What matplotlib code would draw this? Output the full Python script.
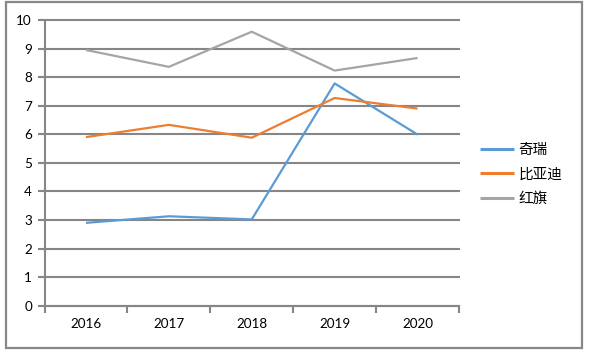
import matplotlib
matplotlib.use("Agg")
import matplotlib.pyplot as plt
from matplotlib.patches import Rectangle
import numpy as np

years = ["2016", "2017", "2018", "2019", "2020"]
series_names = ["奇瑞", "比亚迪", "红旗"]
chery = [2.90, 3.13, 3.02, 7.78, 5.99]
byd = [5.90, 6.33, 5.88, 7.27, 6.90]
hongqi = [8.95, 8.36, 9.59, 8.23, 8.67]
colors = ["#5B9BD5", "#ED7D31", "#A5A5A5"]
y_ticks = list(range(0, 11))

W, H = 595, 355
fig = plt.figure(figsize=(W / 100, H / 100), dpi=100)
fig.patch.set_facecolor("white")

# axes placed by pixel bounds
x0, x1, ytop, ybot = 44.5, 459, 20, 305.7
ax = fig.add_axes([x0 / W, 1 - ybot / H, (x1 - x0) / W, (ybot - ytop) / H])

grid_col = "#868686"
pos = np.arange(len(years)) + 0.5
for vals, name, c in zip([chery, byd, hongqi], series_names, colors):
    ax.plot(pos, vals, color=c, lw=1.6, label=name, solid_capstyle="butt", zorder=3)

ax.set_xlim(0, len(years))
ax.set_ylim(0, 10)
ax.set_yticks(y_ticks)
ax.set_yticklabels([str(v) for v in y_ticks])
ax.set_xticks(np.arange(len(years) + 1))
ax.set_xticklabels([])
ax.set_xticks(pos, minor=True)
ax.set_xticklabels(years, minor=True)

for lab in ax.get_yticklabels() + ax.get_xticklabels(minor=True):
    lab.set_fontfamily(["Lato", "DejaVu Sans"])
    lab.set_fontsize(9.7)

ax.tick_params(axis="y", which="major", length=5, width=1.5, color=grid_col, pad=4)
ax.tick_params(axis="x", which="major", length=5, width=1.5, color=grid_col, direction="out")
ax.tick_params(axis="x", which="minor", length=0, pad=9)

for s in ["top", "right"]:
    ax.spines[s].set_visible(False)
for s in ["left", "bottom"]:
    ax.spines[s].set_color(grid_col)
    ax.spines[s].set_linewidth(1.5)

ax.yaxis.grid(True, color=grid_col, lw=1.5)
ax.set_axisbelow(True)
for gl in ax.get_ygridlines():
    gl.set_clip_on(False)

leg = fig.legend(
    loc="center left",
    bbox_to_anchor=(480 / W, 1 - 174.5 / H),
    frameon=False,
    borderpad=0,
    borderaxespad=0,
    handlelength=2.3,
    handletextpad=0.35,
    labelspacing=0.72,
    prop=dict(family=["Noto Sans CJK SC", "DejaVu Sans"], size=10.5),
)
for line in leg.get_lines():
    line.set_linewidth(2.2)

# outer frame
fig.patches.append(Rectangle((6 / W, 1 - 348 / H), (582 - 6) / W, (348 - 2) / H,
                             transform=fig.transFigure, fill=False,
                             edgecolor="#888888", lw=1.6, zorder=10))

fig.savefig("out.png", dpi=100)
